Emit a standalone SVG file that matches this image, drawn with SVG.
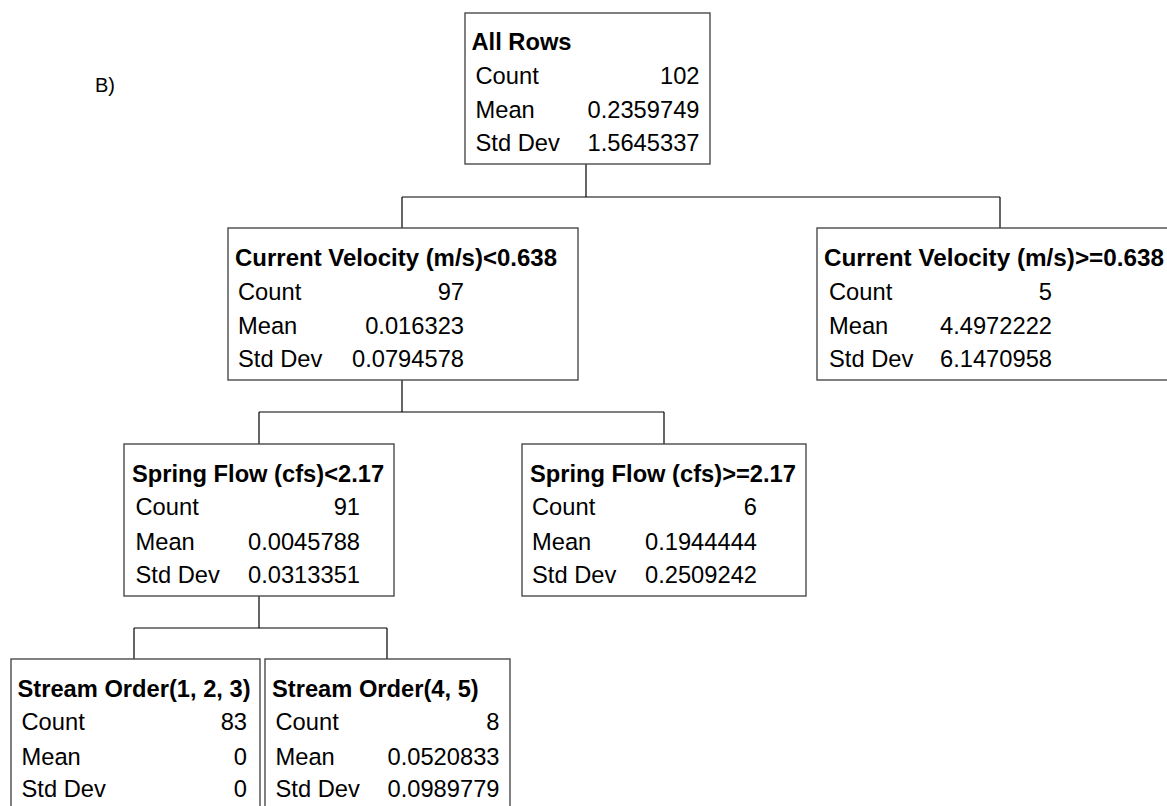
<svg xmlns="http://www.w3.org/2000/svg" width="1167" height="806" viewBox="0 0 1167 806">
  <style>
    .box { fill: #ffffff; stroke: #4a4a4a; stroke-width: 1.4; }
    .link { fill: none; stroke: #000000; stroke-width: 1.2; }
    text { font-family: "Liberation Sans", Arial, sans-serif; font-size: 23.7px; fill: #000000; }
    .title { font-weight: bold; }
    .val { text-anchor: end; }
  </style>
  <rect x="0" y="0" width="1167" height="806" fill="#ffffff"/>

  <text x="95" y="92" style="font-size:20px">B)</text>

  <!-- connectors -->
  <g id="connectors">
    <path class="link" d="M586 164 V197 M402 197 H1000 M402 197 V228 M1000 197 V228"/>
    <path class="link" d="M402 380 V412 M259 412 H664 M259 412 V444 M664 412 V444"/>
    <path class="link" d="M259 596 V628 M134 628 H387 M134 628 V659 M387 628 V659"/>
  </g>

  <g id="node-all-rows">
    <rect class="box" x="465" y="13" width="245" height="151"/>
    <text class="title" x="471.5" y="49.5">All Rows</text>
    <text x="475.5" y="83.5">Count</text>
    <text class="val" x="699.5" y="83.5">102</text>
    <text x="475.5" y="118">Mean</text>
    <text class="val" x="699.5" y="118">0.2359749</text>
    <text x="475.5" y="151">Std Dev</text>
    <text class="val" x="699.5" y="151">1.5645337</text>
  </g>

  <g id="node-velocity-low">
    <rect class="box" x="228" y="228" width="350" height="152"/>
    <text class="title" x="235" y="266" textLength="322" lengthAdjust="spacingAndGlyphs">Current Velocity (m/s)&lt;0.638</text>
    <text x="238" y="299.5">Count</text>
    <text class="val" x="464" y="299.5">97</text>
    <text x="238" y="334">Mean</text>
    <text class="val" x="464" y="334">0.016323</text>
    <text x="238" y="367">Std Dev</text>
    <text class="val" x="464" y="367">0.0794578</text>
  </g>

  <g id="node-velocity-high">
    <rect class="box" x="817" y="228" width="362" height="152"/>
    <text class="title" x="824" y="266" textLength="340" lengthAdjust="spacingAndGlyphs">Current Velocity (m/s)&gt;=0.638</text>
    <text x="829" y="299.5">Count</text>
    <text class="val" x="1052" y="299.5">5</text>
    <text x="829" y="334">Mean</text>
    <text class="val" x="1052" y="334">4.4972222</text>
    <text x="829" y="367">Std Dev</text>
    <text class="val" x="1052" y="367">6.1470958</text>
  </g>

  <g id="node-flow-low">
    <rect class="box" x="124" y="444" width="270" height="152"/>
    <text class="title" x="132" y="481.5">Spring Flow (cfs)&lt;2.17</text>
    <text x="135.5" y="515">Count</text>
    <text class="val" x="360" y="515">91</text>
    <text x="135.5" y="549.5">Mean</text>
    <text class="val" x="360" y="549.5">0.0045788</text>
    <text x="135.5" y="582.5">Std Dev</text>
    <text class="val" x="360" y="582.5">0.0313351</text>
  </g>

  <g id="node-flow-high">
    <rect class="box" x="522" y="444" width="284" height="152"/>
    <text class="title" x="530" y="481.5">Spring Flow (cfs)&gt;=2.17</text>
    <text x="532" y="515">Count</text>
    <text class="val" x="757" y="515">6</text>
    <text x="532" y="549.5">Mean</text>
    <text class="val" x="757" y="549.5">0.1944444</text>
    <text x="532" y="582.5">Std Dev</text>
    <text class="val" x="757" y="582.5">0.2509242</text>
  </g>

  <g id="node-order-123">
    <rect class="box" x="11" y="659" width="249" height="160"/>
    <text class="title" x="17.5" y="696.5">Stream Order(1, 2, 3)</text>
    <text x="21.5" y="729.5">Count</text>
    <text class="val" x="247" y="729.5">83</text>
    <text x="21.5" y="764.5">Mean</text>
    <text class="val" x="247" y="764.5">0</text>
    <text x="21.5" y="797">Std Dev</text>
    <text class="val" x="247" y="797">0</text>
  </g>

  <g id="node-order-45">
    <rect class="box" x="265" y="659" width="245" height="160"/>
    <text class="title" x="272" y="696.5">Stream Order(4, 5)</text>
    <text x="275.5" y="729.5">Count</text>
    <text class="val" x="499.5" y="729.5">8</text>
    <text x="275.5" y="764.5">Mean</text>
    <text class="val" x="499.5" y="764.5">0.0520833</text>
    <text x="275.5" y="797">Std Dev</text>
    <text class="val" x="499.5" y="797">0.0989779</text>
  </g>
</svg>
